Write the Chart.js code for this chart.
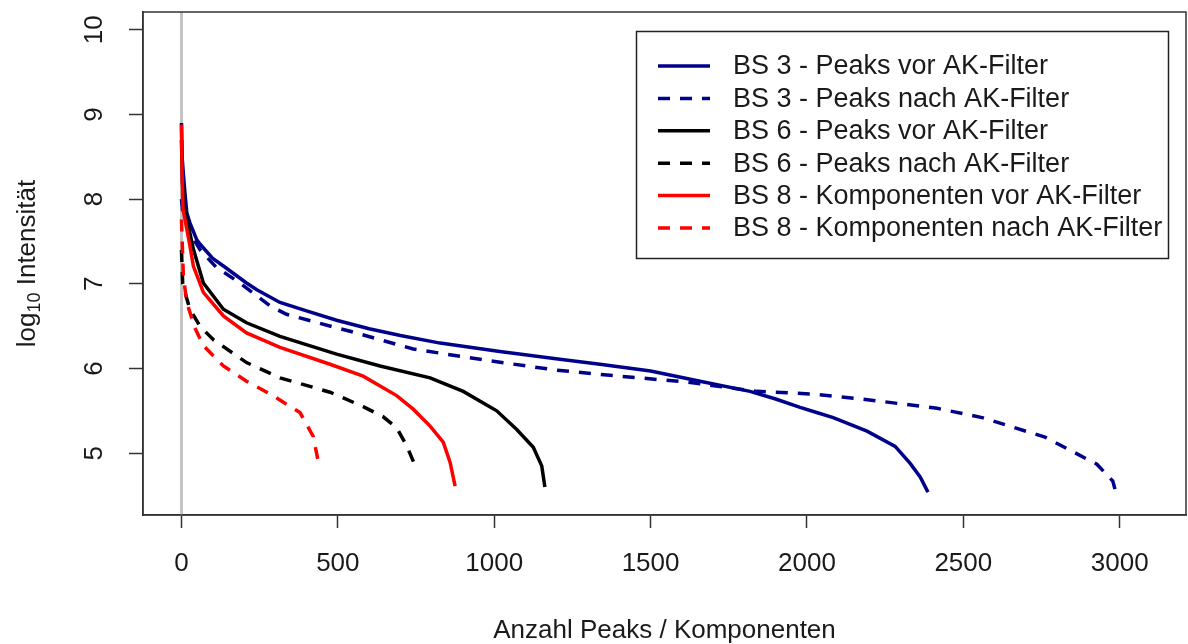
<!DOCTYPE html>
<html>
<head>
<meta charset="utf-8">
<script src="https://cdn.jsdelivr.net/npm/chart.js@4/dist/chart.umd.min.js"></script>
<style>
  body { margin: 0; background: #fff; }
  #wrap { width: 1188px; height: 644px; }
</style>
</head>
<body>
<div id="wrap"><canvas id="myChart"></canvas></div>
<script>
// x = rank of peak / component, y = log10 intensity
const bs3VorX = [0, 2, 6, 11, 17, 27, 49, 59, 100, 134, 208, 241, 315, 400, 496, 600, 700, 827, 1018, 1210, 1338, 1500, 1658, 1818, 1900, 1978, 2031, 2084, 2192, 2282, 2330, 2362, 2387];
const bs3VorY = [8.9, 8.5, 8.3, 8.08, 7.84, 7.72, 7.52, 7.47, 7.3, 7.21, 7.01, 6.93, 6.78, 6.68, 6.57, 6.47, 6.39, 6.30, 6.20, 6.11, 6.05, 5.97, 5.85, 5.73, 5.64, 5.54, 5.48, 5.42, 5.26, 5.08, 4.88, 4.72, 4.54];

const bs3NachX = [0, 4, 12, 27, 60, 110, 187, 283, 336, 486, 539, 741, 987, 1200, 1370, 1615, 1840, 2010, 2176, 2416, 2560, 2761, 2927, 2978, 2991];
const bs3NachY = [8.0, 7.85, 7.76, 7.6, 7.4, 7.2, 7.01, 6.74, 6.64, 6.49, 6.44, 6.23, 6.09, 5.98, 5.92, 5.84, 5.73, 5.70, 5.64, 5.53, 5.42, 5.19, 4.87, 4.67, 4.49];

const bs6VorX = [0, 3, 10, 27, 38, 70, 134, 208, 315, 496, 635, 795, 901, 1008, 1072, 1125, 1152, 1162];
const bs6VorY = [8.7, 8.2, 7.9, 7.6, 7.41, 7.01, 6.70, 6.54, 6.38, 6.17, 6.03, 5.89, 5.73, 5.50, 5.28, 5.07, 4.85, 4.60];

const bs6NachX = [0, 4, 15, 27, 59, 102, 208, 315, 475, 581, 645, 688, 720, 752];
const bs6NachY = [7.4, 7.0, 6.85, 6.70, 6.50, 6.34, 6.07, 5.89, 5.72, 5.55, 5.43, 5.30, 5.09, 4.81];

const bs8VorX = [0, 2, 5, 27, 38, 70, 134, 208, 315, 475, 581, 688, 741, 795, 837, 859, 875];
const bs8VorY = [8.88, 8.3, 7.88, 7.45, 7.21, 6.90, 6.62, 6.42, 6.25, 6.05, 5.91, 5.68, 5.52, 5.32, 5.13, 4.89, 4.61];

const bs8NachX = [0, 6, 17, 43, 70, 134, 208, 283, 379, 421, 437];
const bs8NachY = [7.76, 7.09, 6.78, 6.48, 6.27, 6.03, 5.85, 5.70, 5.48, 5.20, 4.91];

const seriesLabels = [
    'BS 3 - Peaks vor AK-Filter',
    'BS 3 - Peaks nach AK-Filter',
    'BS 6 - Peaks vor AK-Filter',
    'BS 6 - Peaks nach AK-Filter',
    'BS 8 - Komponenten vor AK-Filter',
    'BS 8 - Komponenten nach AK-Filter'
];

const xTicks = [0, 500, 1000, 1500, 2000, 2500, 3000];
const yTicks = [5, 6, 7, 8, 9, 10];
const xTitle = 'Anzahl Peaks / Komponenten';
const yTitleParts = ['log', '10', ' Intensität'];

const FONT = '"Liberation Sans", Arial, sans-serif';
const NAVY = '#00008b';
const DASH = [12, 10];

function pts(xs, ys) {
    return xs.map((x, i) => ({x: x, y: ys[i]}));
}

function series(label, xs, ys, color, dashed, order) {
    return {
        label: label,
        data: pts(xs, ys),
        borderColor: color,
        borderWidth: 3.5,
        borderDash: dashed ? DASH : [],
        pointRadius: 0,
        tension: 0,
        order: order
    };
}

const datasets = [
    series(seriesLabels[0], bs3VorX, bs3VorY, NAVY, false, 6),
    series(seriesLabels[1], bs3NachX, bs3NachY, NAVY, true, 5),
    series(seriesLabels[2], bs6VorX, bs6VorY, '#000000', false, 4),
    series(seriesLabels[3], bs6NachX, bs6NachY, '#000000', true, 3),
    series(seriesLabels[4], bs8VorX, bs8VorY, '#ff0000', false, 2),
    series(seriesLabels[5], bs8NachX, bs8NachY, '#ff0000', true, 1),
    {
        // zero line
        label: 'zero',
        data: [{x: 0, y: 4}, {x: 0, y: 11}],
        borderColor: '#c4c4c4',
        borderWidth: 3,
        pointRadius: 0,
        order: 10
    }
];

// box around plot, axis title with subscript, legend inside the plot
const decorations = {
    id: 'decorations',
    afterDraw(chart) {
        const ctx = chart.ctx;
        const a = chart.chartArea;
        ctx.save();
        ctx.strokeStyle = '#333';
        ctx.lineWidth = 1.5;
        ctx.strokeRect(a.left, a.top, a.right - a.left, a.bottom - a.top);

        // y title
        ctx.fillStyle = '#1a1a1a';
        ctx.translate(28, (a.top + a.bottom) / 2);
        ctx.rotate(-Math.PI / 2);
        ctx.textBaseline = 'middle';
        const big = '26px ' + FONT, small = '18px ' + FONT;
        ctx.font = big;
        const w0 = ctx.measureText(yTitleParts[0]).width;
        const w2 = ctx.measureText(yTitleParts[2]).width;
        ctx.font = small;
        const w1 = ctx.measureText(yTitleParts[1]).width;
        let x = -(w0 + w1 + w2) / 2;
        ctx.font = big;
        ctx.fillText(yTitleParts[0], x, 0);
        x += w0;
        ctx.font = small;
        ctx.fillText(yTitleParts[1], x, 7);
        x += w1;
        ctx.font = big;
        ctx.fillText(yTitleParts[2], x, 0);
        ctx.restore();

        // legend
        ctx.save();
        const bx = 636, by = 31, bw = 532, bh = 227;
        ctx.fillStyle = '#fff';
        ctx.fillRect(bx, by, bw, bh);
        ctx.strokeStyle = '#222';
        ctx.lineWidth = 1.5;
        ctx.strokeRect(bx + 0.5, by + 0.5, bw, bh);
        ctx.font = '27px ' + FONT;
        ctx.textBaseline = 'middle';
        chart.data.datasets.slice(0, 6).forEach((ds, i) => {
            const y = 66 + i * 32.4;
            ctx.strokeStyle = ds.borderColor;
            ctx.lineWidth = 3.5;
            ctx.setLineDash(ds.borderDash);
            ctx.beginPath();
            ctx.moveTo(658, y);
            ctx.lineTo(710, y);
            ctx.stroke();
            ctx.setLineDash([]);
            ctx.fillStyle = '#1a1a1a';
            ctx.fillText(ds.label, 733, y + 1);
        });
        ctx.restore();
    }
};

const ctx = document.getElementById('myChart').getContext('2d');
new Chart(ctx, {
    type: 'line',
    data: {datasets: datasets},
    options: {
        responsive: true,
        maintainAspectRatio: false,
        animation: false,
        layout: {padding: {top: 12, right: 2, left: 0, bottom: 0}},
        plugins: {
            legend: {display: false},
            tooltip: {enabled: false}
        },
        scales: {
            x: {
                type: 'linear',
                min: -123,
                max: 3212,
                afterBuildTicks: scale => { scale.ticks = xTicks.map(v => ({value: v})); },
                afterFit: scale => {
                    scale.height = 129;
                    scale.paddingLeft = 0;
                    scale.paddingRight = 0;
                },
                grid: {drawOnChartArea: false, tickLength: 13, tickColor: '#333', tickWidth: 1.5},
                border: {display: true, color: '#333', width: 1.5},
                ticks: {
                    autoSkip: false,
                    maxRotation: 0,
                    padding: 20,
                    color: '#1a1a1a',
                    font: {family: FONT, size: 26},
                    callback: value => String(value)
                },
                title: {
                    display: true,
                    text: xTitle,
                    color: '#1a1a1a',
                    font: {family: FONT, size: 26, lineHeight: 1},
                    padding: {top: 0, bottom: 0}
                }
            },
            y: {
                type: 'linear',
                min: 4.27,
                max: 10.21,
                afterBuildTicks: scale => { scale.ticks = yTicks.map(v => ({value: v})); },
                afterFit: scale => {
                    scale.width = 143;
                    scale.paddingTop = 0;
                    scale.paddingBottom = 0;
                },
                grid: {drawOnChartArea: false, tickLength: 14, tickColor: '#333', tickWidth: 1.5},
                border: {display: true, color: '#333', width: 1.5},
                ticks: {
                    autoSkip: false,
                    minRotation: 90,
                    maxRotation: 90,
                    crossAlign: 'center',
                    padding: 20,
                    color: '#1a1a1a',
                    font: {family: FONT, size: 26},
                    callback: value => String(value)
                }
            }
        }
    },
    plugins: [decorations]
});
</script>
</body>
</html>
